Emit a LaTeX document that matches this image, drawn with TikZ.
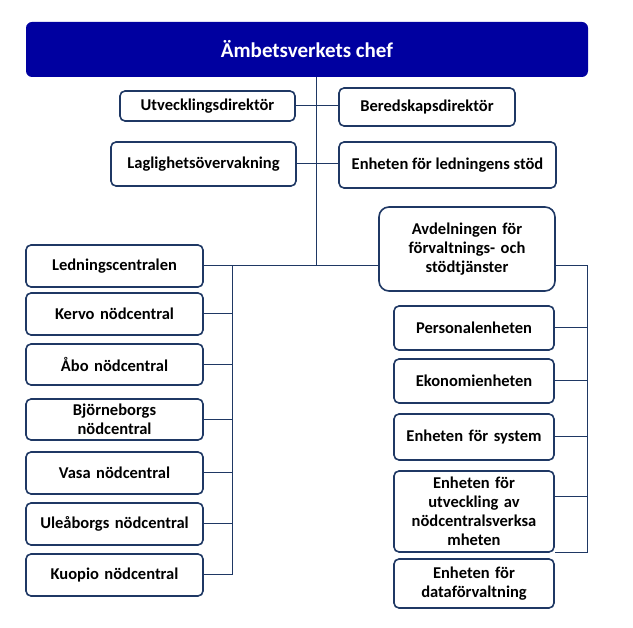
\documentclass[tikz,border=0pt]{standalone}
\usepackage{fontspec}
\setmainfont{Carlito}
\usepackage{xcolor}
\definecolor{chefblue}{RGB}{0,0,160}
\definecolor{unitnavy}{RGB}{31,56,100}

\begin{document}
\begin{tikzpicture}[x=1pt,y=-1pt]
			\tikzstyle{chef} = [fill=chefblue, text=white, rounded corners=6pt, minimum width=562pt, minimum height=55pt, font=\bfseries\fontsize{21}{25}\selectfont]
			\tikzstyle{unit} = [draw=unitnavy, line width=1.6pt, fill=white, rounded corners=5pt, inner sep=1pt, align=center, font=\bfseries\fontsize{16.5}{19}\selectfont]
			\tikzstyle{leftunit} = [unit, minimum width=177pt, minimum height=41pt, text width=172pt]
			\tikzstyle{rightunit} = [unit, minimum width=160pt, text width=155pt]
			\tikzset{edge/.style = {draw=unitnavy, line width=1pt}}

			\useasboundingbox (0,0) rectangle (633,628);

			\node[chef](head) at (307,49.5) {Ämbetsverkets chef};

			\node[unit, minimum width=175pt, minimum height=30pt](utvdir) at (207.5,106) {Utvecklingsdirektör};
			\node[unit, minimum width=176pt, minimum height=38pt](bereddir) at (427,107) {Beredskapsdirektör};
			\node[unit, minimum width=185pt, minimum height=44pt](laglighet) at (203.5,164) {Laglighetsövervakning};
			\node[unit, minimum width=217pt, minimum height=46pt](ledstod) at (447.5,165) {Enheten för ledningens stöd};
			\node[unit, rounded corners=10pt, minimum width=176pt, minimum height=84pt, text width=170pt](avd) at (467,249) {Avdelningen för\\förvaltnings- och\\stödtjänster};

			\node[leftunit, minimum height=42pt](ledc) at (114.5,266) {Ledningscentralen};
			\node[leftunit, minimum height=42pt](kervo) at (114.5,314) {Kervo nödcentral};
			\node[leftunit](abo) at (114.5,364.5) {Åbo nödcentral};
			\node[leftunit](bjorn) at (114.5,419.5) {Björneborgs\\nödcentral};
			\node[leftunit, minimum height=42pt](vasa) at (114.5,473) {Vasa nödcentral};
			\node[leftunit, minimum height=42pt](ulea) at (114.5,524) {Uleåborgs nödcentral};
			\node[leftunit, minimum height=42pt](kuopio) at (114.5,575) {Kuopio nödcentral};

			\node[rightunit, minimum height=44pt](personal) at (474,328) {Personalenheten};
			\node[rightunit, minimum height=44pt](ekonomi) at (474,381) {Ekonomienheten};
			\node[rightunit, minimum height=46pt](system) at (474,437) {Enheten för system};
			\node[rightunit, minimum height=81pt](utvnod) at (474,511.5) {Enheten för\\utveckling av\\nödcentralsverksa\\mheten};
			\node[rightunit, minimum height=49pt](datafv) at (474,583.5) {Enheten för\\dataförvaltning};

			\coordinate (trunk) at (316,266);
			\coordinate (lbus) at (232,266);
			\coordinate (rbus) at (587,266);
			\coordinate (avdout) at (555,266);
			\coordinate (utvout) at (554,497);

			\draw[edge](trunk |- head.south) to (trunk);
			\draw[edge](utvdir.east) to (utvdir.east -| bereddir.west);
			\draw[edge](laglighet.east) to (laglighet.east -| ledstod.west);
			\draw[edge](ledc.east) to (ledc.east -| avd.west);

			\draw[edge](lbus) to (lbus |- kuopio.east);
			\draw[edge](kervo.east) to (kervo.east -| lbus);
			\draw[edge](abo.east) to (abo.east -| lbus);
			\draw[edge](bjorn.east) to (bjorn.east -| lbus);
			\draw[edge](vasa.east) to (vasa.east -| lbus);
			\draw[edge](ulea.east) to (ulea.east -| lbus);
			\draw[edge](kuopio.east) to (kuopio.east -| lbus);

			\draw[edge](avdout) to (rbus) to (rbus |- utvnod.south east) to (utvnod.south east);
			\draw[edge](personal.east) to (personal.east -| rbus);
			\draw[edge](ekonomi.east) to (ekonomi.east -| rbus);
			\draw[edge](system.east) to (system.east -| rbus);
			\draw[edge](utvout) to (utvout -| rbus);

			\end{tikzpicture}
\end{document}
